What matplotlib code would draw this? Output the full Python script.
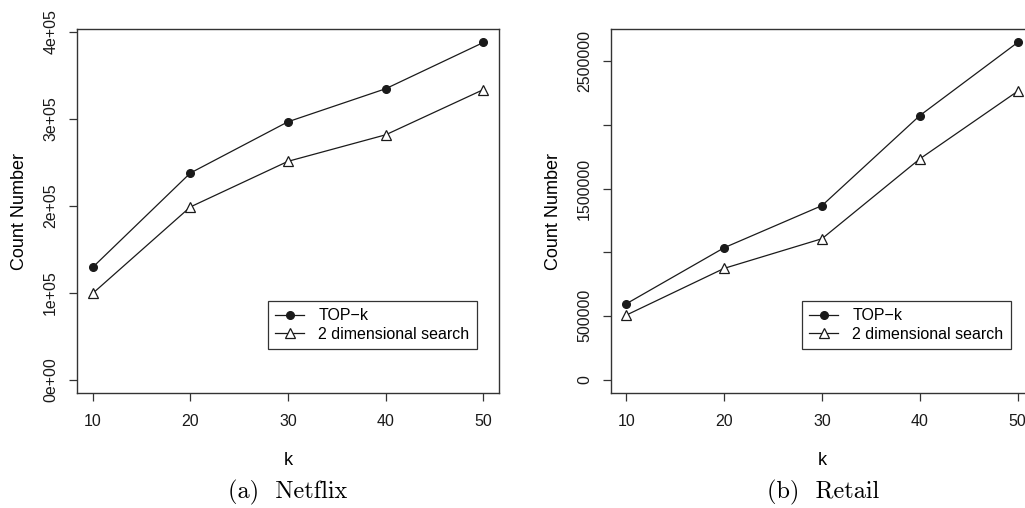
import matplotlib.pyplot as plt

plt.rcParams['font.family'] = ['Liberation Sans', 'DejaVu Sans']

k_values = [10, 20, 30, 40, 50]

# Netflix counts
netflix_topk = [129000, 237500, 296500, 334500, 387700]
netflix_2d = [99000, 198500, 251000, 281500, 333500]

# Retail counts
retail_topk = [595000, 1035000, 1366000, 2073000, 2647000]
retail_2d = [506000, 873000, 1106000, 1733000, 2264000]

netflix_yticks = [0, 100000, 200000, 300000, 400000]
netflix_ylabels = ['0e+00', '1e+05', '2e+05', '3e+05', '4e+05']
retail_yticks = [0, 500000, 1000000, 1500000, 2000000, 2500000]
retail_ylabels = ['0', '500000', '', '1500000', '', '2500000']

series_names = ['TOP\u2212k', '2 dimensional search']
captions = ['(a)  Netflix', '(b)  Retail']

W, H = 1025, 508
fig = plt.figure(figsize=(W / 100, H / 100), dpi=100)

line_col = '#1a1a1a'
box_col = '#333333'


def r_range(lo, hi):
    pad = (hi - lo) * 0.04
    return lo - pad, hi + pad


def panel(rect, topk, twod, yticks, ylabels, caption, cap_x):
    ax = fig.add_axes(rect)
    ax.plot(k_values, topk, color=line_col, lw=0.9, marker='o', ms=5.5,
            mfc=line_col, mec=line_col, label=series_names[0])
    ax.plot(k_values, twod, color=line_col, lw=0.9, marker='^', ms=7.5,
            mfc='white', mec=line_col, mew=0.9, label=series_names[1])
    ax.set_xlim(*r_range(10, 50))
    ax.set_ylim(*r_range(0, max(topk)))
    ax.set_xticks(k_values)
    ax.set_xticklabels([str(k) for k in k_values])
    ax.set_yticks(yticks)
    ax.set_yticklabels(ylabels, rotation=90, va='center')
    for s in ax.spines.values():
        s.set_color(box_col)
        s.set_linewidth(1.0)
    ax.tick_params(length=6, width=0.9, color=box_col, labelsize=11.5,
                   labelcolor='#1a1a1a')
    ax.tick_params(axis='x', pad=9)
    ax.tick_params(axis='y', pad=7.5)
    ax.set_xlabel('k', fontsize=13, labelpad=17)
    ax.set_ylabel('Count Number', fontsize=13, labelpad=11)
    leg = ax.legend(loc='upper left', bbox_to_anchor=(0.453, 0.252),
                    frameon=True, fancybox=False, edgecolor='black',
                    fontsize=11.5, handlelength=1.8, handletextpad=0.9,
                    borderpad=0.45, labelspacing=0.2, borderaxespad=0)
    leg.get_frame().set_linewidth(0.9)
    fig.text(cap_x / W, 1 - 492 / H, caption, family='cmr10', fontsize=17.5,
             ha='center', va='center')
    return ax


top, bottom = 29, 393
panel([77 / W, 1 - bottom / H, (499 - 77) / W, (bottom - top) / H],
      netflix_topk, netflix_2d, netflix_yticks, netflix_ylabels,
      captions[0], 288)
panel([610.7 / W, 1 - bottom / H, (1033.3 - 610.7) / W, (bottom - top) / H],
      retail_topk, retail_2d, retail_yticks, retail_ylabels,
      captions[1], 823)

fig.savefig('out.png', dpi=100)
